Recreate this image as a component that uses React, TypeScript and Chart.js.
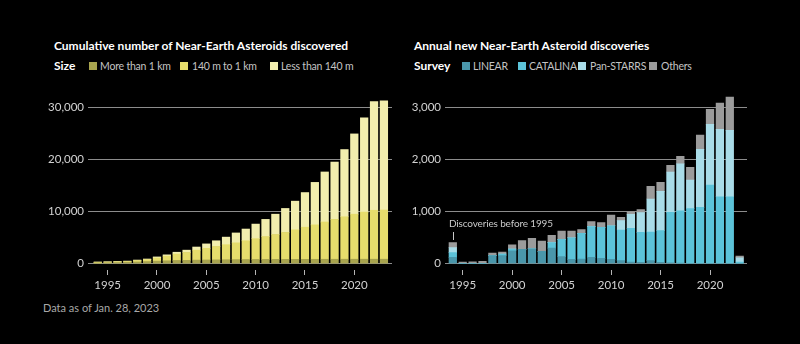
import React, { useEffect, useRef } from "react";
import { Chart, registerables } from "chart.js";

Chart.register(...registerables);

// ---------- data ----------
const years = [
  1994, 1995, 1996, 1997, 1998, 1999, 2000, 2001, 2002, 2003,
  2004, 2005, 2006, 2007, 2008, 2009, 2010, 2011, 2012, 2013,
  2014, 2015, 2016, 2017, 2018, 2019, 2020, 2021, 2022, 2023,
];
const yearTicks = [1995, 2000, 2005, 2010, 2015, 2020];

// Cumulative NEAs by size (stacked segments)
const sizeMoreThan1km = [
  150, 180, 210, 250, 330, 400, 500, 560, 610, 650,
  690, 720, 740, 760, 780, 790, 800, 810, 820, 830,
  835, 840, 845, 850, 855, 860, 860, 865, 865, 865,
];
const size140mTo1km = [
  130, 140, 160, 180, 270, 380, 600, 890, 1240, 1500,
  1910, 2230, 2560, 2890, 3220, 3610, 4000, 4390, 4780, 5170,
  5665, 6160, 6605, 7150, 7645, 8140, 8640, 9035, 9385, 9435,
];
const sizeLessThan140m = [
  50, 60, 60, 70, 100, 120, 200, 250, 350, 450,
  600, 850, 1100, 1450, 1900, 2250, 2800, 3300, 3900, 4600,
  5500, 6650, 8150, 9600, 11000, 12900, 15400, 18100, 20850, 20950,
];
const cumulativeTicks = [0, 10000, 20000, 30000];

// Annual discoveries by survey (first bar = discoveries before 1995)
const surveyLinear = [
  122, 0, 0, 0, 154, 154, 250, 276, 288, 237,
  301, 135, 83, 90, 122, 103, 83, 58, 32, 26,
  58, 26, 19, 10, 0, 0, 0, 0, 0, 0,
];
const surveyCatalina = [
  90, 0, 0, 0, 0, 32, 32, 0, 0, 0,
  103, 333, 417, 494, 590, 596, 647, 590, 647, 577,
  551, 609, 968, 1006, 1058, 1083, 1513, 1288, 1288, 32,
];
const surveyPanStarrs = [
  96, 0, 0, 0, 0, 0, 0, 0, 0, 0,
  0, 0, 0, 0, 0, 0, 0, 180, 269, 378,
  635, 756, 776, 904, 551, 1115, 1167, 1295, 1276, 83,
];
const surveyOthers = [
  96, 32, 38, 45, 51, 38, 83, 167, 199, 199,
  141, 160, 128, 70, 96, 90, 205, 64, 51, 58,
  244, 173, 128, 147, 244, 276, 288, 506, 641, 32,
];
const annualTicks = [0, 1000, 2000, 3000];

// ---------- styling ----------
const FONT = "Lato, 'Open Sans', sans-serif";
const GRID = "#8c8c8c";
const TICK_TEXT = "#d2d2d2";

const SIZE_COLORS = ["#a8a44e", "#e6dd6c", "#f2eeae"];
const SURVEY_COLORS = ["#4a97ab", "#5cc3d9", "#a9dce8", "#9b9b9b"];

type Series = { label: string; values: number[]; color: string };

type PanelProps = {
  series: Series[];
  yMin: number;
  yMax: number;
  yTicks: number[];
  xMin: number;
  xMax: number;
  yAxisWidth: number;
  padTop: number;
  padRight: number;
  left: number;
  top: number;
  width: number;
  height: number;
};

function BarPanel(p: PanelProps) {
  const ref = useRef<HTMLCanvasElement>(null);
  useEffect(() => {
    if (!ref.current) return;
    const chart = new Chart(ref.current, {
      type: "bar",
      data: {
        datasets: p.series.map((s) => ({
          label: s.label,
          data: years.map((y, i) => ({ x: y, y: s.values[i] })),
          backgroundColor: s.color,
          borderWidth: 0,
          barThickness: 7.6,
        })),
      },
      options: {
        animation: false,
        responsive: false,
        maintainAspectRatio: false,
        layout: { padding: { top: p.padTop, right: p.padRight, left: 0, bottom: 0 } },
        plugins: { legend: { display: false }, tooltip: { enabled: false } },
        scales: {
          x: {
            type: "linear",
            stacked: true,
            offset: false,
            min: p.xMin,
            max: p.xMax,
            afterBuildTicks: (s: any) => {
              s.ticks = yearTicks.map((v) => ({ value: v }));
            },
            afterFit: (s: any) => {
              s.height = 30;
            },
            grid: {
              offset: false,
              drawOnChartArea: false,
              drawTicks: true,
              tickLength: 5,
              tickColor: "#b5b5b5",
              tickWidth: 1,
            },
            border: { display: false },
            ticks: {
              color: TICK_TEXT,
              font: { family: FONT, size: 11.5 },
              padding: 3,
              maxRotation: 0,
              autoSkip: false,
              callback: (v: any) => String(v),
            },
          },
          y: {
            type: "linear",
            stacked: true,
            min: p.yMin,
            max: p.yMax,
            afterBuildTicks: (s: any) => {
              s.ticks = p.yTicks.map((v) => ({ value: v }));
            },
            afterFit: (s: any) => {
              s.width = p.yAxisWidth;
            },
            grid: { color: GRID, lineWidth: 1, drawTicks: false },
            border: { display: false },
            ticks: {
              color: TICK_TEXT,
              font: { family: FONT, size: 11.5 },
              padding: 4,
              callback: (v: any) => Number(v).toLocaleString("en-US"),
            },
          },
        },
      },
    });
    return () => chart.destroy();
  }, []);
  return (
    <canvas
      ref={ref}
      width={p.width}
      height={p.height}
      style={{ position: "absolute", left: p.left, top: p.top, width: p.width, height: p.height }}
    />
  );
}

const abs = (left: number, top: number, extra: React.CSSProperties = {}): React.CSSProperties => ({
  position: "absolute",
  left,
  top,
  whiteSpace: "nowrap",
  ...extra,
});

const legendText: React.CSSProperties = {
  fontSize: 10.5,
  letterSpacing: "-0.2px",
  lineHeight: "16px",
  color: "#c4c4c4",
};

function LegendItem({ x, tx, color, text }: { x: number; tx: number; color: string; text: string }) {
  return (
    <>
      <div style={abs(x, 62, { width: 8, height: 8, background: color })} />
      <div style={abs(tx, 58, legendText)}>{text}</div>
    </>
  );
}

const titleStyle: React.CSSProperties = {
  fontSize: 12,
  fontWeight: 700,
  color: "#fff",
  lineHeight: "18px",
};

export default function App() {
  useEffect(() => {
    document.body.style.margin = "0";
    document.body.style.background = "#000";
  }, []);

  return (
    <div
      style={{
        position: "fixed",
        left: 0,
        top: 0,
        width: 800,
        height: 344,
        background: "#000",
        fontFamily: FONT,
        overflow: "hidden",
      }}
    >
      {/* Left panel text */}
      <div style={abs(54, 37, titleStyle)}>Cumulative number of Near-Earth Asteroids discovered</div>
      <div style={abs(54, 58, { fontSize: 12, fontWeight: 700, color: "#fff", lineHeight: "16px" })}>Size</div>
      <LegendItem x={89} tx={100} color={SIZE_COLORS[0]} text="More than 1 km" />
      <LegendItem x={180} tx={192} color={SIZE_COLORS[1]} text="140 m to 1 km" />
      <LegendItem x={270} tx={281} color={SIZE_COLORS[2]} text="Less than 140 m" />

      {/* Right panel text */}
      <div style={abs(414, 37, titleStyle)}>Annual new Near-Earth Asteroid discoveries</div>
      <div style={abs(414, 58, { fontSize: 12, fontWeight: 700, color: "#fff", lineHeight: "16px" })}>Survey</div>
      <LegendItem x={462} tx={473} color={SURVEY_COLORS[0]} text="LINEAR" />
      <LegendItem x={518} tx={529} color={SURVEY_COLORS[1]} text="CATALINA" />
      <LegendItem x={578} tx={590} color={SURVEY_COLORS[2]} text="Pan-STARRS" />
      <LegendItem x={649} tx={661} color={SURVEY_COLORS[3]} text="Others" />

      <BarPanel
        series={[
          { label: "More than 1 km", values: sizeMoreThan1km, color: SIZE_COLORS[0] },
          { label: "140 m to 1 km", values: size140mTo1km, color: SIZE_COLORS[1] },
          { label: "Less than 140 m", values: sizeLessThan140m, color: SIZE_COLORS[2] },
        ]}
        yMin={-1208}
        yMax={32000}
        yTicks={cumulativeTicks}
        xMin={1993.01}
        xMax={2023.82}
        yAxisWidth={48}
        padTop={16.9}
        padRight={8}
        left={40}
        top={80}
        width={360}
        height={220}
      />
      <BarPanel
        series={[
          { label: "LINEAR", values: surveyLinear, color: SURVEY_COLORS[0] },
          { label: "CATALINA", values: surveyCatalina, color: SURVEY_COLORS[1] },
          { label: "Pan-STARRS", values: surveyPanStarrs, color: SURVEY_COLORS[2] },
          { label: "Others", values: surveyOthers, color: SURVEY_COLORS[3] },
        ]}
        yMin={-121}
        yMax={3250}
        yTicks={annualTicks}
        xMin={1993.21}
        xMax={2023.74}
        yAxisWidth={45}
        padTop={14.7}
        padRight={13}
        left={400}
        top={80}
        width={360}
        height={220}
      />

      {/* Annotation */}
      <div style={abs(449, 215, { fontSize: 10, letterSpacing: "-0.15px", lineHeight: "16px", color: "#c8c8c8" })}>
        Discoveries before 1995
      </div>
      <div style={abs(453, 232, { width: 1, height: 8, background: "#c8c8c8" })} />

      {/* Footer */}
      <div style={abs(43, 300, { fontSize: 11, lineHeight: "16px", color: "#a8a8a8" })}>
        Data as of Jan. 28, 2023
      </div>
    </div>
  );
}
